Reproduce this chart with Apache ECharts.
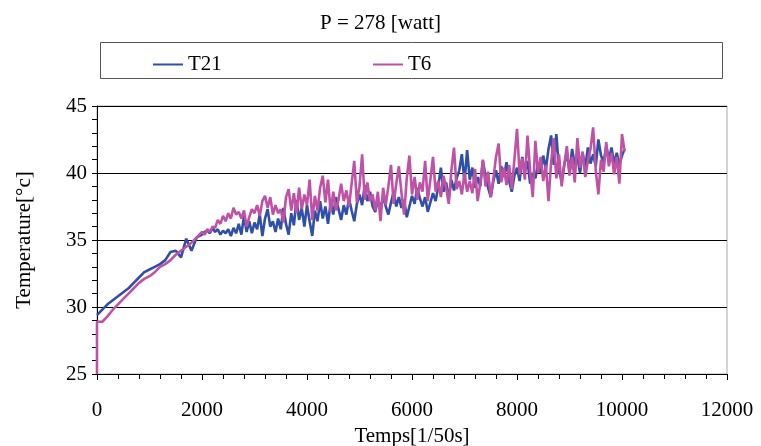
<!DOCTYPE html>
<html><head><meta charset="utf-8">
<script src="https://cdn.jsdelivr.net/npm/echarts@6/dist/echarts.min.js"></script>
<style>html,body{margin:0;padding:0;background:#fff}#c{width:761px;height:446px}</style>
</head><body><div id="c"></div>
<script>
const time = [0,0,100,200,300,400,500,600,700,800,900,1000,1100,1200,1300,1400,1500,1600,1700,1800,1900,2000,
2050,2100,2150,2200,2250,2300,2350,2400,2450,2500,2550,2600,2650,2700,2750,2800,2850,2900,2950,3000,
3050,3100,3150,3200,3250,3300,3350,3400,3450,3500,3550,3600,3650,3700,3750,3800,3850,3900,3950,4000,
4050,4100,4150,4200,4250,4300,4350,4400,4450,4500,4550,4600,4650,4700,4750,4800,4850,4900,4950,5000,
5050,5100,5150,5200,5250,5300,5350,5400,5450,5500,5550,5600,5650,5700,5750,5800,5850,5900,5950,6000,
6050,6100,6150,6200,6250,6300,6350,6400,6450,6500,6550,6600,6650,6700,6750,6800,6850,6900,6950,7000,
7050,7100,7150,7200,7250,7300,7350,7400,7450,7500,7550,7600,7650,7700,7750,7800,7850,7900,7950,8000,
8050,8100,8150,8200,8250,8300,8350,8400,8450,8500,8550,8600,8650,8700,8750,8800,8850,8900,8950,9000,
9050,9100,9150,9200,9250,9300,9350,9400,9450,9500,9550,9600,9650,9700,9750,9800,9850,9900,9950,10000,10050];

const T21 = [29.4,29.5,29.8,30.2,30.5,30.8,31.1,31.4,31.8,32.2,32.6,32.8,33.0,33.2,33.5,34.1,34.2,33.7,35.1,34.2,35.2,35.4,
35.6,35.7,35.5,35.9,35.6,35.8,35.4,35.7,35.5,35.8,35.3,35.9,35.5,36.2,35.4,36.8,35.6,36.4,35.5,36.3,
35.8,36.9,35.3,36.6,37.3,36.0,36.4,35.6,36.6,35.8,37.4,36.2,35.4,37.0,36.1,38.0,36.5,37.4,36.0,37.6,
36.4,35.3,37.2,36.4,37.9,36.6,37.5,36.2,37.8,36.9,38.2,37.3,36.5,37.6,36.9,38.1,37.2,36.4,37.7,38.4,
37.6,39.1,37.9,38.6,37.5,37.1,38.0,37.4,38.2,37.5,36.9,37.8,38.6,37.5,38.2,37.4,38.0,36.7,37.5,38.3,
37.7,38.9,38.1,37.5,38.2,37.1,37.8,38.5,37.9,39.0,40.4,38.6,39.3,38.1,39.5,38.7,39.6,40.2,41.4,39.3,
41.7,39.5,40.4,38.9,39.7,39.0,40.9,39.8,38.9,38.2,39.4,40.2,39.2,40.5,39.7,40.8,39.4,38.6,39.8,40.4,
39.4,41.2,40.1,40.9,39.2,40.0,39.6,40.7,40.0,41.3,40.3,41.8,42.8,40.6,42.9,40.2,39.4,40.6,41.5,40.1,
41.8,40.6,41.2,40.0,41.5,40.4,41.9,40.7,41.4,40.5,42.5,41.3,40.8,42.0,41.0,41.9,40.7,41.5,40.6,41.3,41.8];

const T6 = [25.0,28.9,28.9,29.3,29.8,30.2,30.6,31.0,31.4,31.8,32.1,32.3,32.6,33.0,33.2,33.5,33.9,34.2,34.5,34.8,35.2,35.6,
35.4,35.8,35.6,36.0,35.9,36.5,36.2,36.8,36.4,37.0,36.6,37.4,36.9,37.1,36.6,37.2,36.0,36.7,37.3,37.0,
37.6,36.8,37.9,38.3,37.4,38.2,36.9,37.6,37.0,37.3,36.3,38.2,38.8,37.2,38.5,37.0,38.9,37.3,38.4,37.6,
39.5,36.5,38.3,37.2,38.9,39.8,37.8,39.5,37.1,38.6,37.2,38.0,39.2,37.9,38.7,37.5,39.2,40.9,37.8,39.0,
41.4,38.0,39.3,37.9,38.4,37.2,38.6,36.4,38.9,37.6,39.0,40.6,37.7,39.2,40.5,38.5,36.9,39.6,41.3,38.4,
39.7,38.0,39.3,38.6,40.9,37.9,39.5,41.2,38.6,39.4,38.2,39.8,38.9,37.7,40.2,41.9,38.8,39.4,38.4,40.0,
38.6,39.4,38.5,40.3,37.9,39.2,41.0,39.0,40.1,38.2,39.6,41.2,42.2,39.3,40.4,39.1,40.6,38.8,41.0,43.3,
39.9,41.1,39.5,42.8,40.2,38.2,42.4,40.0,41.2,39.4,40.6,37.9,40.8,42.6,39.6,41.4,39.0,40.6,42.0,39.8,
41.2,39.3,42.6,40.4,41.6,39.7,40.9,41.8,43.4,40.2,38.4,41.0,40.1,42.3,40.5,41.5,39.9,41.2,39.2,42.9,41.6];

const xTicks = [0,2000,4000,6000,8000,10000,12000];
const yTicks = [25,30,35,40,45];

const chart = echarts.init(document.getElementById('c'));
const font = '"Liberation Serif","Times New Roman",serif';
const pairs = (ys) => time.map((t,i)=>[t, ys[i]]);
chart.setOption({
  animation:false,
  textStyle:{fontFamily:font,color:'#000'},
  title:{text:'P = 278 [watt]',left:'center',top:8,
    textStyle:{fontFamily:font,fontSize:21,fontWeight:'normal',color:'#000'}},
  graphic:[{type:'rect',shape:{x:100.5,y:42.5,width:622,height:36},
    style:{fill:'none',stroke:'#555',lineWidth:1}}],
  legend:[
    {data:['T21'],left:148,top:49,icon:'rect',itemWidth:30,itemHeight:2,itemGap:5,
      textStyle:{fontFamily:font,fontSize:21,color:'#000'}},
    {data:['T6'],left:368,top:49,icon:'rect',itemWidth:30,itemHeight:2,itemGap:5,
      textStyle:{fontFamily:font,fontSize:21,color:'#000'}}
  ],
  grid:{left:97,right:34,top:106,bottom:72,show:true,borderColor:'#aaa',borderWidth:1,
    containLabel:false,outerBoundsMode:'none'},
  xAxis:{type:'value',min:xTicks[0],max:xTicks[xTicks.length-1],interval:2000,
    name:'Temps[1/50s]',nameLocation:'middle',nameGap:49,
    nameTextStyle:{fontFamily:font,fontSize:21,color:'#000'},
    axisLine:{onZero:false,lineStyle:{color:'#000',width:1}},
    axisTick:{show:true,length:6,inside:false,lineStyle:{color:'#000'}},
    minorTick:{show:true,splitNumber:5,length:5,lineStyle:{color:'#000'}},
    splitLine:{show:false},
    axisLabel:{fontFamily:font,fontSize:21,color:'#000',margin:26,formatter:(v)=>String(v)}},
  yAxis:{type:'value',min:yTicks[0],max:yTicks[yTicks.length-1],interval:5,
    name:'Temperature[°c]',nameLocation:'middle',nameGap:62,nameRotate:90,
    nameTextStyle:{fontFamily:font,fontSize:21,color:'#000'},
    axisLine:{show:true,lineStyle:{color:'#000',width:1}},
    axisTick:{show:true,length:5,lineStyle:{color:'#000'}},
    minorTick:{show:true,splitNumber:5,length:5,lineStyle:{color:'#000'}},
    splitLine:{show:true,lineStyle:{color:'#000',width:1}},
    axisLabel:{fontFamily:font,fontSize:21,color:'#000',margin:10}},
  series:[
    {name:'T21',type:'line',data:pairs(T21),showSymbol:false,symbol:'none',
      itemStyle:{color:'#3050a8'},lineStyle:{color:'#3050a8',width:2.6}},
    {name:'T6',type:'line',data:pairs(T6),showSymbol:false,symbol:'none',
      itemStyle:{color:'#c052a6'},lineStyle:{color:'#c052a6',width:2.6}}
  ]
});
</script></body></html>
